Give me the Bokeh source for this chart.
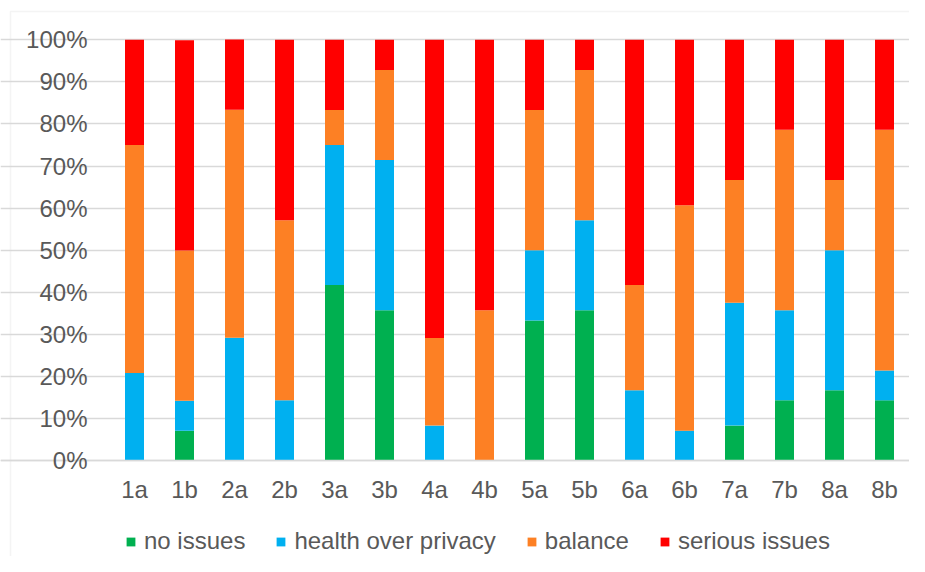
from bokeh.plotting import figure
from bokeh.models import (Range1d, NumeralTickFormatter, Legend, LegendItem, FixedTicker,
                          ColumnDataSource, BoxAnnotation)
from bokeh.embed import file_html
from bokeh.resources import INLINE

categories = ["1a", "1b", "2a", "2b", "3a", "3b", "4a", "4b",
              "5a", "5b", "6a", "6b", "7a", "7b", "8a", "8b"]
no_issues = [0.0, 0.071, 0.0, 0.0, 0.417, 0.357, 0.0, 0.0,
             0.333, 0.357, 0.0, 0.0, 0.083, 0.143, 0.167, 0.143]
health_over_privacy = [0.208, 0.071, 0.292, 0.143, 0.333, 0.357, 0.083, 0.0,
                       0.167, 0.214, 0.167, 0.071, 0.292, 0.214, 0.333, 0.071]
balance = [0.542, 0.357, 0.542, 0.428, 0.083, 0.214, 0.208, 0.357,
           0.333, 0.357, 0.250, 0.536, 0.292, 0.429, 0.167, 0.572]
serious_issues = [0.250, 0.500, 0.167, 0.429, 0.167, 0.072, 0.709, 0.643,
                  0.167, 0.072, 0.583, 0.393, 0.333, 0.214, 0.333, 0.214]
series_names = ["no issues", "health over privacy", "balance", "serious issues"]
series_keys = ["no_issues", "health_over_privacy", "balance", "serious_issues"]
colors = ["#00B050", "#00B0F0", "#FD8024", "#FF0000"]
y_ticks = [0.0, 0.1, 0.2, 0.3, 0.4, 0.5, 0.6, 0.7, 0.8, 0.9, 1.0]

# category slot centres on a numeric axis (one unit per category)
x_pos = [i + 0.5 for i in range(len(categories))]

source = ColumnDataSource(dict(x=x_pos, cat=categories, no_issues=no_issues,
                               health_over_privacy=health_over_privacy,
                               balance=balance, serious_issues=serious_issues))

FONT = "Liberation Sans"
GRAY = "#595959"
GRID = "#D9D9D9"

W, H = 909, 556
PX_X = 50.0      # pixels per category
PX_Y = 420.7     # pixels per 100%
LEFT, ZERO_Y = 109, 460   # pixel position of first category edge / 0% line

p = figure(x_range=Range1d(-LEFT / PX_X, (W - LEFT) / PX_X),
           y_range=Range1d(-(H - ZERO_Y) / PX_Y, ZERO_Y / PX_Y),
           width=W, height=H, output_backend="svg", toolbar_location=None,
           min_border_left=0, min_border_right=0, min_border_top=0, min_border_bottom=0)

renderers = p.vbar_stack(series_keys, x="x", width=0.38, color=colors,
                         line_color=None, source=source)

p.outline_line_color = None
p.xgrid.grid_line_color = None
p.ygrid.grid_line_color = GRID
p.ygrid.grid_line_width = 1.5

p.yaxis.ticker = FixedTicker(ticks=y_ticks)
p.yaxis.formatter = NumeralTickFormatter(format="0%")
p.yaxis.fixed_location = 0
p.yaxis.axis_line_color = None
p.yaxis.major_tick_line_color = None
p.yaxis.minor_tick_line_color = None
p.yaxis.major_tick_out = 0
p.yaxis.major_label_standoff = 22

p.xaxis.ticker = FixedTicker(ticks=x_pos)
p.xaxis.major_label_overrides = {x: c for x, c in zip(x_pos, categories)}
p.xaxis.fixed_location = 0
p.xaxis.axis_line_color = GRID
p.xaxis.axis_line_width = 1.5
p.xaxis.major_tick_line_color = None
p.xaxis.minor_tick_line_color = None
p.xaxis.major_tick_out = 0
p.xaxis.major_label_standoff = 15
for ax in (p.xaxis, p.yaxis):
    ax.major_label_text_font = FONT
    ax.major_label_text_font_size = "24px"
    ax.major_label_text_color = GRAY

# chart-area border (left and top edges)
p.add_layout(BoxAnnotation(left=(10 - LEFT) / PX_X, right=20, top=(ZERO_Y - 11) / PX_Y, bottom=-1,
                           fill_alpha=0, line_color=GRID, line_width=1.5))

legend = Legend(items=[LegendItem(label=n, renderers=[r]) for n, r in zip(series_names, renderers)],
                orientation="horizontal", location=(125, 1),
                glyph_width=11, glyph_height=11, label_standoff=8, spacing=30, label_height=27,
                padding=0, margin=0, border_line_color=None, background_fill_alpha=0,
                label_text_font=FONT, label_text_font_size="24px", label_text_color=GRAY)
p.add_layout(legend, "center")

open("out.html", "w").write(file_html(p, INLINE))
